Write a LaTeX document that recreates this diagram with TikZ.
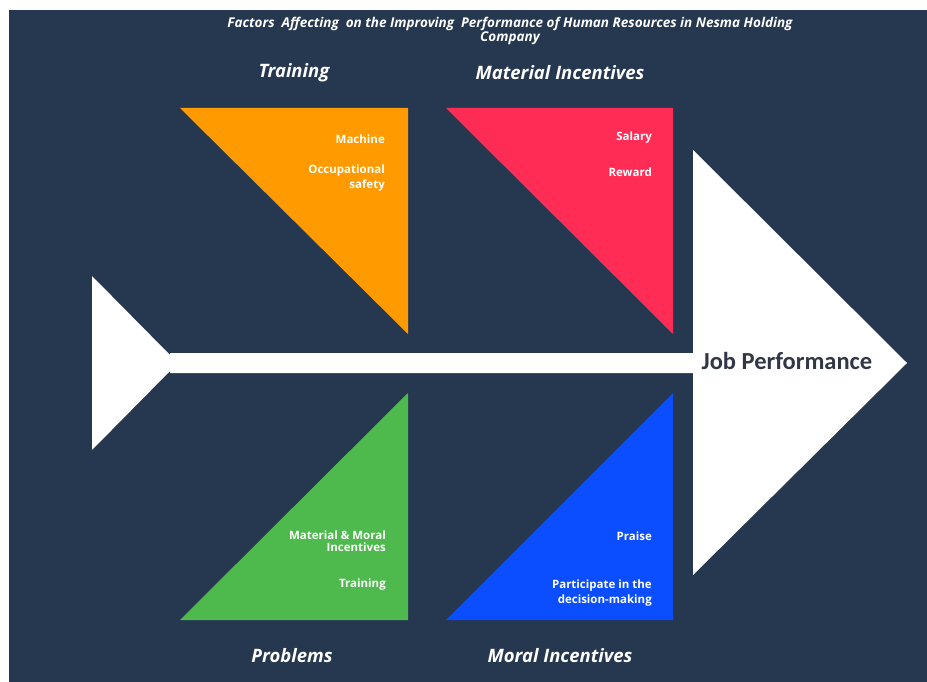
\documentclass[tikz,border=0pt]{standalone}
\usepackage{fontspec}
\setmainfont{Open Sans}
\newfontfamily\jobfont{Carlito}
\definecolor{navy}{RGB}{38,55,80}
\definecolor{orng}{RGB}{255,154,0}
\definecolor{rred}{RGB}{255,45,85}
\definecolor{grn}{RGB}{78,186,78}
\definecolor{blu}{RGB}{10,78,255}
\definecolor{jobtxt}{RGB}{50,55,70}
\begin{document}
\begin{tikzpicture}[x=1pt,y=-1pt,
  title/.style={text=white,font=\fontsize{13.5}{13.5}\selectfont\bfseries\itshape,align=center,inner sep=0pt},
  cat/.style={text=white,font=\fontsize{18.5}{20}\selectfont\bfseries\itshape},
  item/.style={text=white,font=\fontsize{11.5}{15.5}\selectfont\bfseries,align=right,anchor=east,inner sep=0pt}]
\useasboundingbox (0,0) rectangle (927,682);
\fill[white] (0,0) rectangle (927,682);
\fill[navy] (9,10) rectangle (927,682);
% spine and heads
\fill[white] (92,276) -- (170,355) -- (170,353) -- (693,353) -- (693,150) -- (907,363) -- (693,575) -- (693,373) -- (170,373) -- (170,371) -- (92,450) -- cycle;
% triangles
\fill[orng] (180,108) -- (408,108) -- (408,334) -- cycle;
\fill[rred] (446,108) -- (673,108) -- (673,334) -- cycle;
\fill[grn] (180,620) -- (408,620) -- (408,393) -- cycle;
\fill[blu] (446,620) -- (673,620) -- (673,393) -- cycle;
% title
\node[title] (ttl) at (510,31) {Factors\ \ Affecting\ \ on the Improving\ \ Performance of Human Resources in Nesma Holding\\Company};
% category labels
\node[cat] (tr) at (294,73) {Training};
\node[cat] (mi) at (560,73) {Material Incentives};
\node[cat] (pr) at (292,656) {Problems};
\node[cat] (moi) at (560,656) {Moral Incentives};
% items
\node[item] (i1) at (385,139) {Machine};
\node[item] (i2) at (385,178) {Occupational\\safety};
\node[item] (i3) at (652,138) {Salary};
\node[item] (i4) at (652,172) {Reward};
\node[item,font=\fontsize{11.5}{12.5}\selectfont\bfseries] (i5) at (386,541) {Material \& Moral\\Incentives};
\node[item] (i6) at (386,585) {Training};
\node[item] (i7) at (652,536) {Praise};
\node[item] (i8) at (652,593) {Participate in the\\decision-making};
% effect
\node[text=jobtxt,font=\jobfont\fontsize{24.5}{26}\selectfont\bfseries] (job) at (787,361) {Job Performance};
\end{tikzpicture}
\end{document}
